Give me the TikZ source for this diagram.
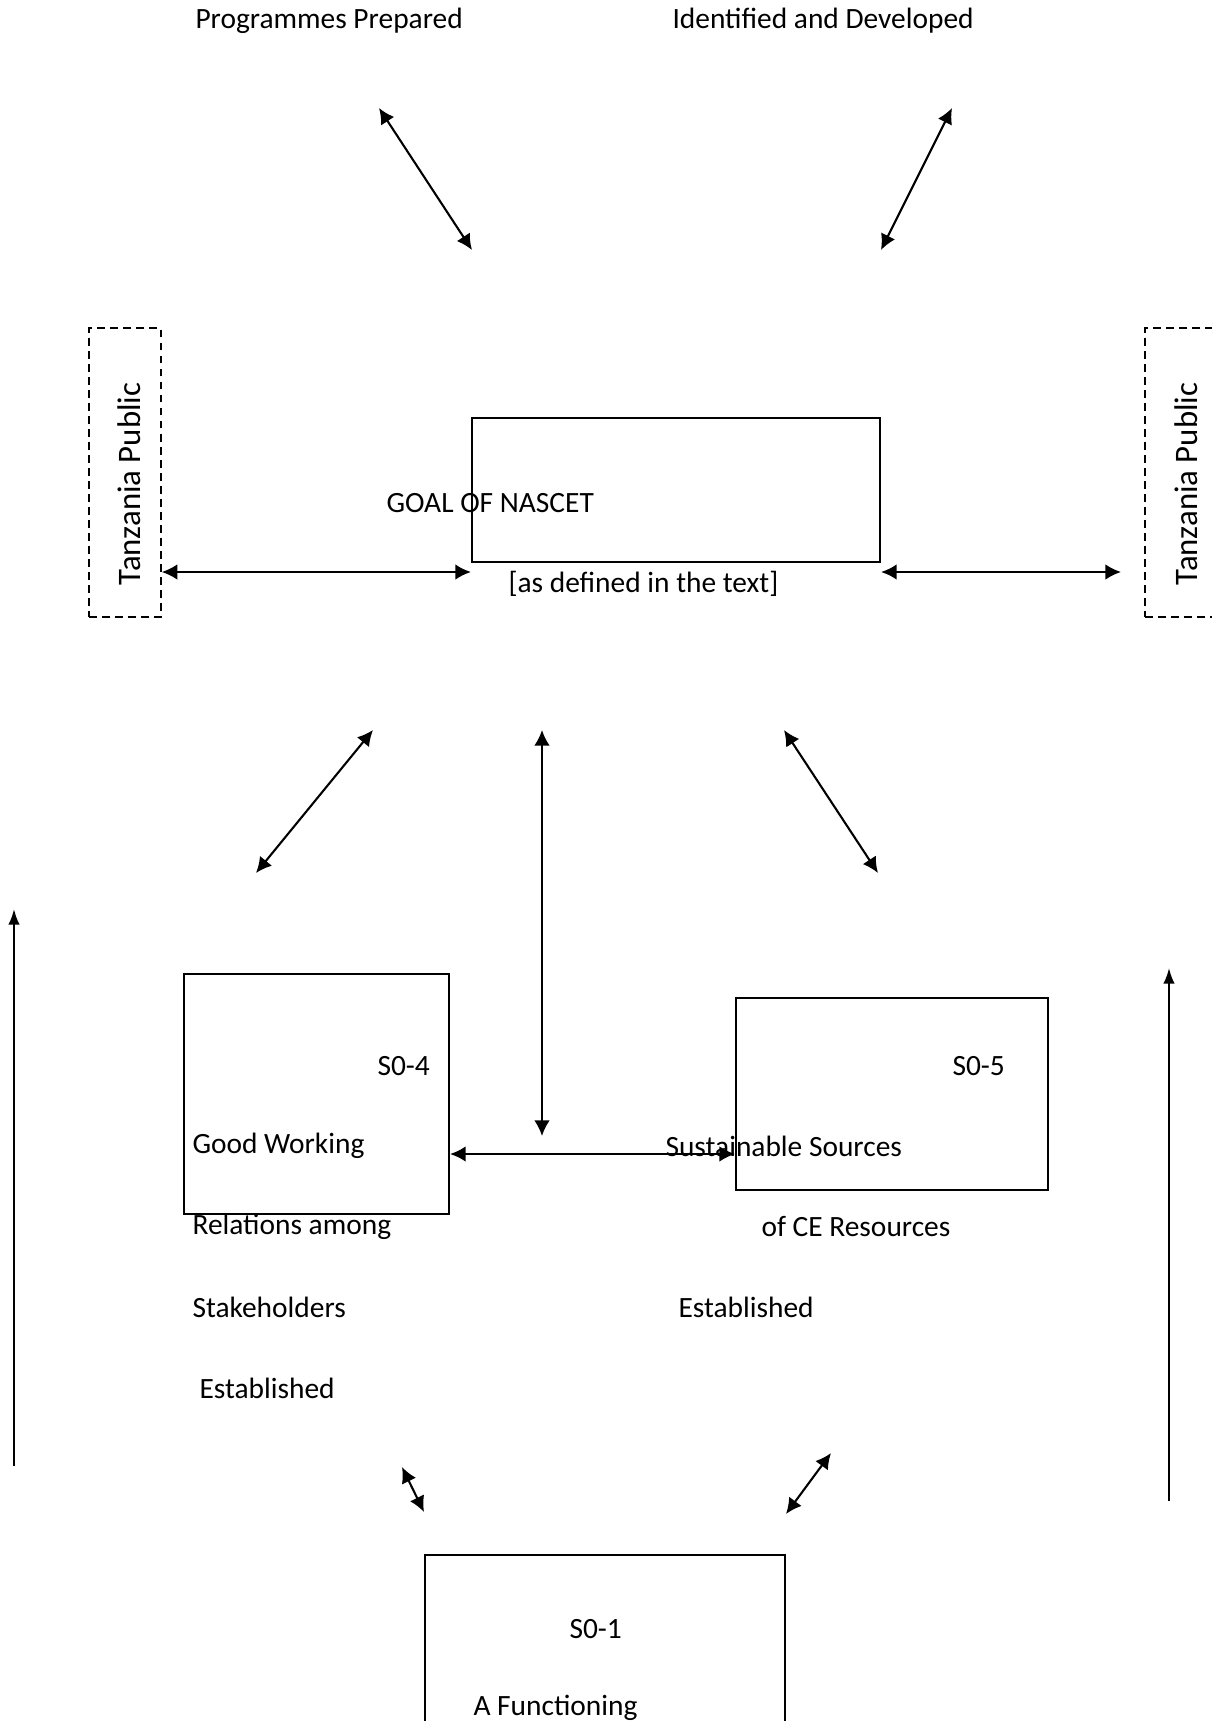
\documentclass[tikz,border=0pt]{standalone}
\usepackage{fontspec}
\setmainfont{Carlito}
\usetikzlibrary{arrows.meta}

\tikzset{
  box/.style={draw, line width=0.8pt, inner sep=0pt},
  pubbox/.style={draw, line width=0.6pt, dash pattern=on 3pt off 2pt, inner sep=0pt},
  link/.style={{Latex[length=6pt,width=6pt]}-{Latex[length=6pt,width=6pt]}, line width=0.8pt},
  uplink/.style={-{Latex[length=6pt,width=4.4pt]}, line width=0.8pt},
  lbl/.style={anchor=west, inner sep=0pt}
}

\begin{document}
\begin{tikzpicture}[x=0.384pt, y=-0.384pt, font=\fontsize{11.3}{13}\selectfont]
    \clip (0,0) rectangle (1212,1721);
    % top texts
    \node [lbl] (prog) at (195,21) {Programmes Prepared};
    \node [lbl] (ident) at (672,21) {Identified and Developed};
    \coordinate (a1s) at (379,108); \coordinate (a1e) at (472,250);
    \coordinate (a2s) at (952,108); \coordinate (a2e) at (881,250);
    \draw [link] (a1s)--(a1e);
    \draw [link] (a2s)--(a2e);

    % goal box and public boxes
    \node [box, minimum width=156.7pt, minimum height=55.3pt] (goal) at (676,490) {};
    \node [lbl] (goaltitle) at (386,503) {GOAL OF NASCET};
    \node [lbl] (goalnote) at (508,584) {[as defined in the text]};
    \node [pubbox, minimum width=27.6pt, minimum height=111pt] (publ) at (125,472.5) {};
    \node [pubbox, minimum width=27.6pt, minimum height=111pt] (pubr) at (1181,472.5) {};
    \node [rotate=90, font=\fontsize{12.6}{14}\selectfont] (publtext) at (129,484) {Tanzania Public};
    \node [rotate=90, font=\fontsize{12.6}{14}\selectfont] (pubrtext) at (1186,484) {Tanzania Public};
    \coordinate (hy) at (0,572);
    \coordinate (h2e) at (1121,572);
    \draw [link] (publ.east |- hy)--(goal.west |- hy);
    \draw [link] (goal.east |- hy)--(h2e);

    % middle links
    \coordinate (d1s) at (373,730); \coordinate (d1e) at (256,873);
    \coordinate (vs) at (542,730); \coordinate (ve) at (542,1136);
    \coordinate (d2s) at (784,730); \coordinate (d2e) at (878,873);
    \draw [link] (d1s)--(d1e);
    \draw [link] (vs)--(ve);
    \draw [link] (d2s)--(d2e);
    \coordinate (upls) at (14,1466); \coordinate (uple) at (14,909);
    \coordinate (uprs) at (1169,1501); \coordinate (upre) at (1169,968);
    \draw [uplink] (upls)--(uple);
    \draw [uplink] (uprs)--(upre);

    % S0-4 and S0-5
    \node [box, minimum width=101.8pt, minimum height=92.2pt] (s4) at (316.5,1094) {};
    \node [lbl] (s4num) at (377,1066) {S0-4};
    \node [lbl] (s4a) at (192,1146) {Good Working};
    \node [lbl] (s4b) at (192,1227) {Relations among};
    \node [lbl] (s4c) at (192,1307) {Stakeholders};
    \node [lbl] (s4d) at (199,1388) {Established};
    \node [box, minimum width=119.8pt, minimum height=73.7pt] (s5) at (892,1094) {};
    \node [lbl] (s5num) at (952,1066) {S0-5};
    \node [lbl] (s5a) at (665,1146) {Sustainable Sources};
    \node [lbl] (s5b) at (761,1227) {of CE Resources};
    \node [lbl] (s5c) at (678,1307) {Established};
    \coordinate (hm) at (0,1154);
    \draw [link] (s4.east |- hm)--(s5.west |- hm);

    % S0-1
    \coordinate (b1s) at (402,1467); \coordinate (b1e) at (424,1512);
    \coordinate (b2s) at (831,1453); \coordinate (b2e) at (786,1514);
    \draw [link] (b1s)--(b1e);
    \draw [link] (b2s)--(b2e);
    \node [box, minimum width=138.2pt, minimum height=76.8pt, anchor=north] (s1) at (605,1554) {};
    \node [lbl] (s1num) at (569,1629) {S0-1};
    \node [lbl] (s1a) at (473,1708) {A Functioning};
\end{tikzpicture}
\end{document}
